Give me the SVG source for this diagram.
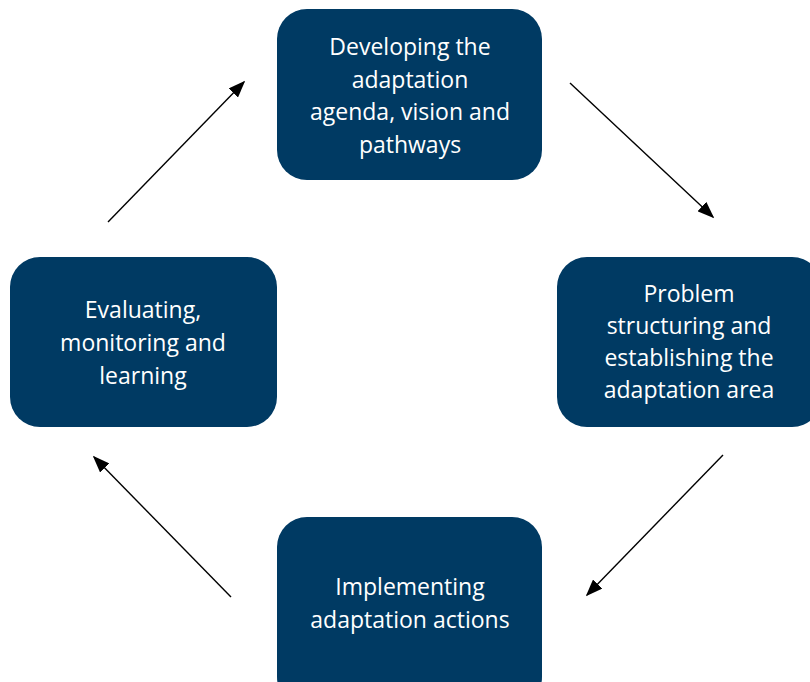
<svg xmlns="http://www.w3.org/2000/svg" width="810" height="682" viewBox="0 0 810 682">
<defs>
<style>
.box{fill:#003A63;}
.t{font-family:"Open Sans","Liberation Sans",sans-serif;font-size:23px;fill:#FFFFFF;text-anchor:middle;}
.c{stroke:#000000;stroke-width:1.4;fill:none;marker-end:url(#ah);}
</style>
<marker id="ah" viewBox="0 0 10 10" refX="9" refY="5" markerWidth="17" markerHeight="13" markerUnits="userSpaceOnUse" orient="auto" preserveAspectRatio="none">
<path d="M0,0 L10,5 L0,10 Z" fill="#000000"/>
</marker>
</defs>
<rect width="810" height="682" fill="#FFFFFF"/>
<g id="connectors">
<line class="c" x1="108" y1="222" x2="244" y2="82"/>
<line class="c" x1="570" y1="83" x2="713" y2="217"/>
<line class="c" x1="723" y1="455" x2="587" y2="595"/>
<line class="c" x1="231" y1="597" x2="94" y2="457"/>
</g>
<g id="node-top">
<rect class="box" x="277" y="9" width="265" height="171" rx="30"/>
<text class="t" x="410" y="55">Developing the</text>
<text class="t" x="410" y="88">adaptation</text>
<text class="t" x="410" y="120">agenda, vision and</text>
<text class="t" x="410" y="153">pathways</text>
</g>
<g id="node-right">
<rect class="box" x="557" y="257" width="265" height="170" rx="30"/>
<text class="t" x="689" y="302">Problem</text>
<text class="t" x="689" y="334">structuring and</text>
<text class="t" x="689" y="366">establishing the</text>
<text class="t" x="689" y="398">adaptation area</text>
</g>
<g id="node-bottom">
<rect class="box" x="277" y="517" width="265" height="190" rx="30"/>
<text class="t" x="410" y="595">Implementing</text>
<text class="t" x="410" y="628">adaptation actions</text>
</g>
<g id="node-left">
<rect class="box" x="10" y="257" width="267" height="170" rx="30"/>
<text class="t" x="143" y="318">Evaluating,</text>
<text class="t" x="143" y="351">monitoring and</text>
<text class="t" x="143" y="384">learning</text>
</g>
</svg>
